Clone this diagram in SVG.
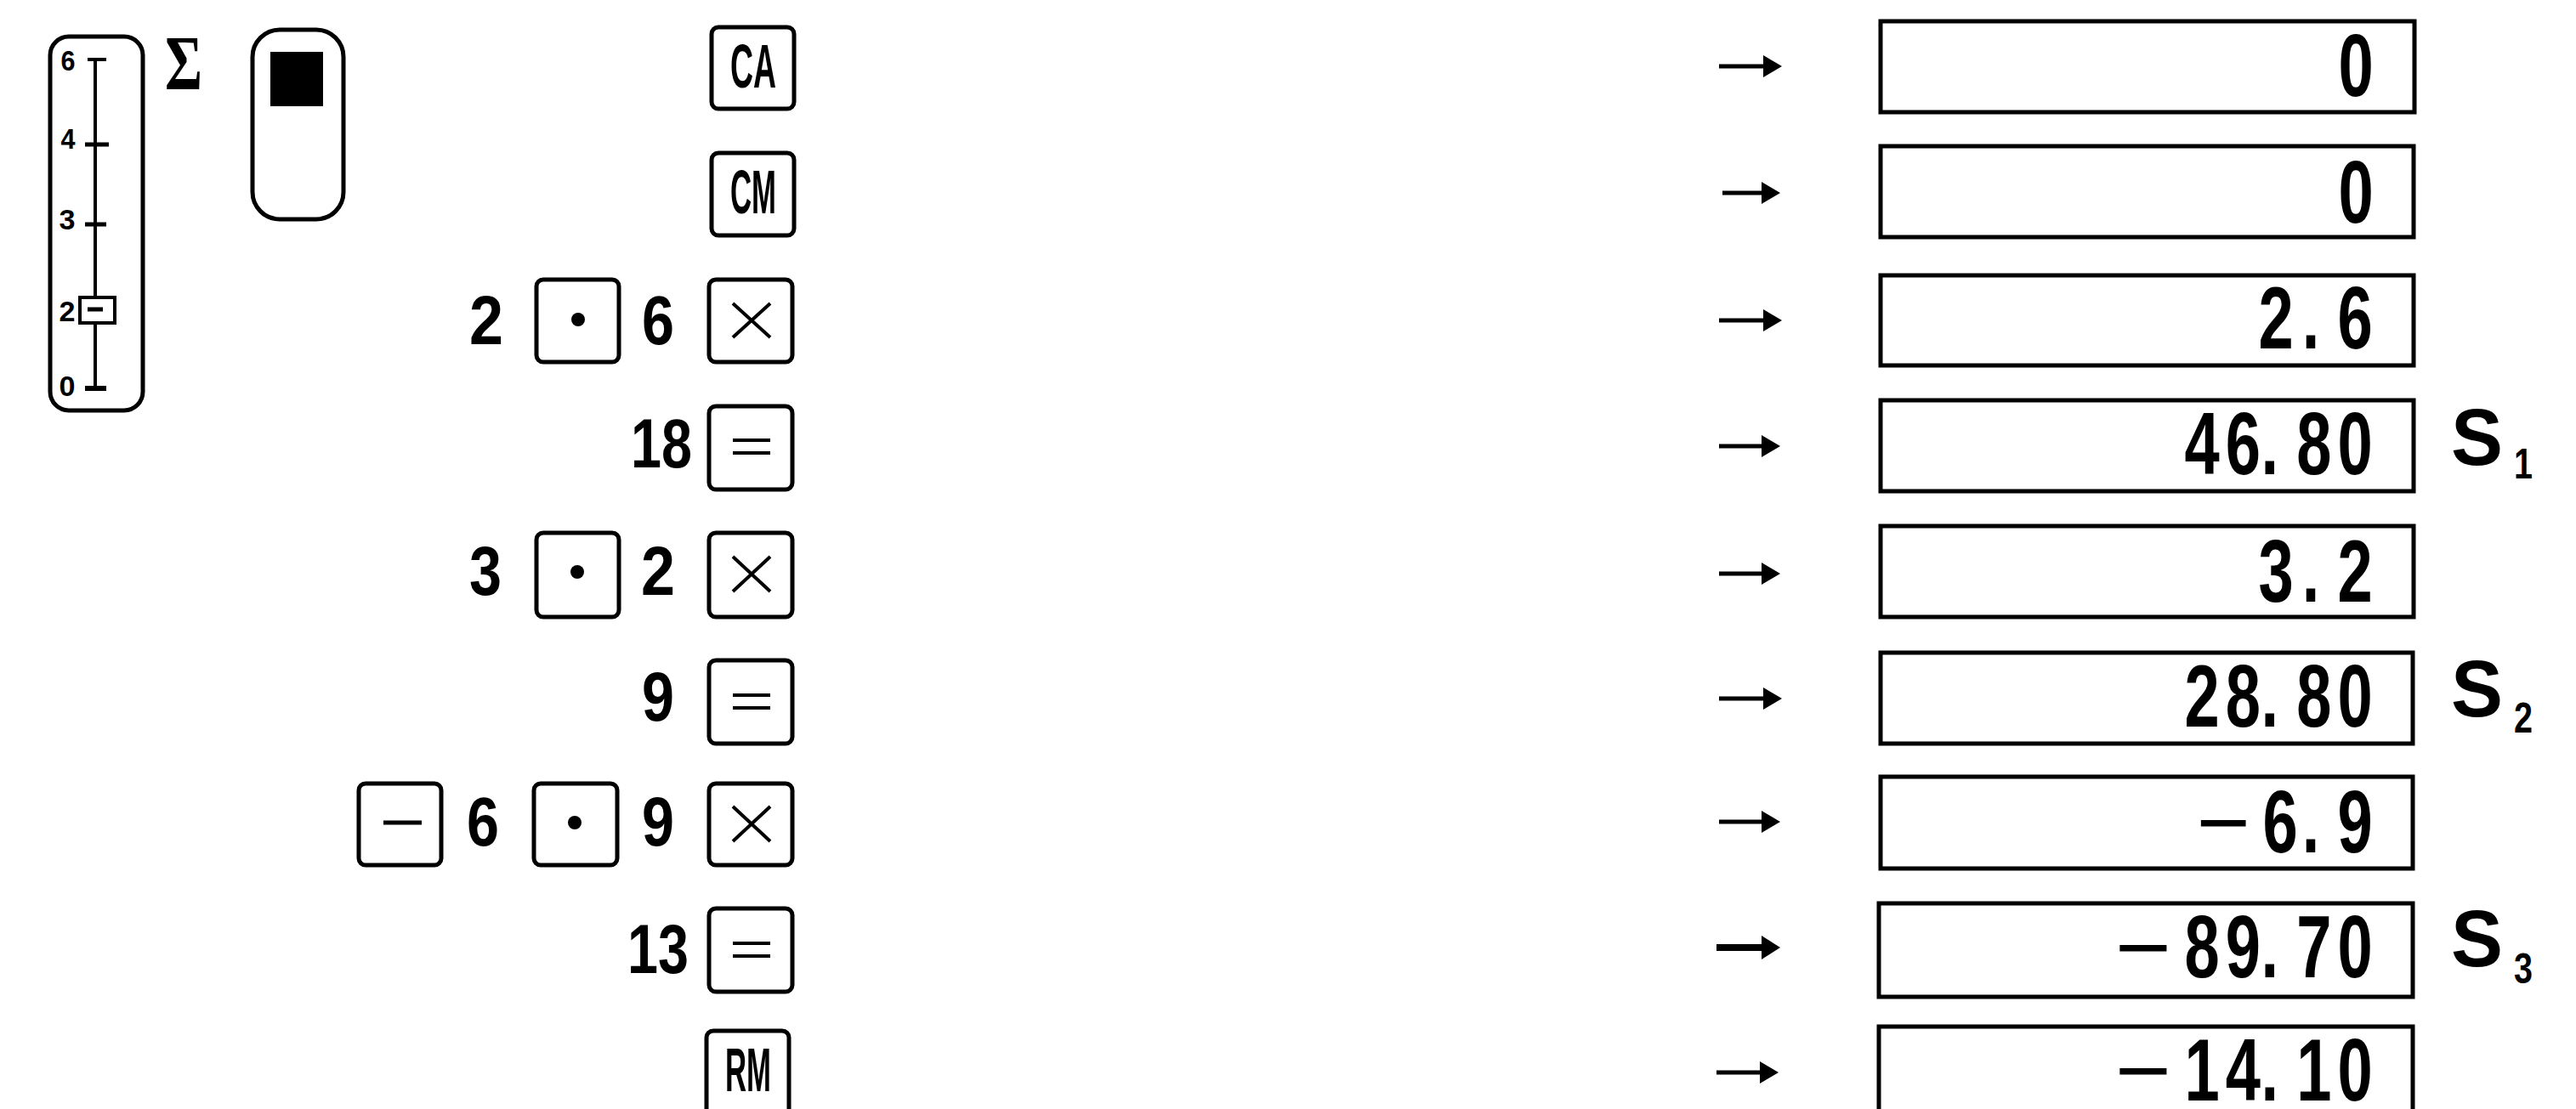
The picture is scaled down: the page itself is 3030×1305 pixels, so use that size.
<svg xmlns="http://www.w3.org/2000/svg" width="3030" height="1305" viewBox="0 0 3030 1305">
<style>
.bg{fill:#fff}
.key{fill:#fff;stroke:#000;stroke-width:5}
.sym{stroke:#000;stroke-width:4;fill:none}
.num{font-family:"Liberation Sans",Arial,sans-serif;font-weight:bold;font-size:82px;fill:#000;text-anchor:middle}
.lbl{font-family:"Liberation Sans",Arial,sans-serif;font-weight:bold;font-size:72px;fill:#000;text-anchor:middle}
.tick{font-family:"Liberation Sans",Arial,sans-serif;font-weight:bold;font-size:34px;fill:#000;text-anchor:middle}
.box{fill:#fff;stroke:#000;stroke-width:5}
.val{font-family:"Liberation Sans",Arial,sans-serif;font-weight:bold;font-size:103px;fill:#000;text-anchor:middle}
.mn{font-weight:normal}
.s{font-family:"Liberation Sans",Arial,sans-serif;font-weight:bold;font-size:94px;fill:#000}
.sub{font-family:"Liberation Sans",Arial,sans-serif;font-weight:bold;font-size:50px;fill:#000}
.arr{stroke:#000;stroke-width:5;fill:none;marker-end:url(#ah)}
.arrb{stroke:#000;stroke-width:8;fill:none;marker-end:url(#ahb)}
</style>
<defs>
<marker id="ah" markerUnits="userSpaceOnUse" markerWidth="24" markerHeight="26" refX="4" refY="13" orient="auto" viewBox="0 0 24 26"><path d="M0,0 L22,13 L0,26 Z" fill="#000"/></marker>
<marker id="ahb" markerUnits="userSpaceOnUse" markerWidth="24" markerHeight="28" refX="4" refY="14" orient="auto" viewBox="0 0 24 28"><path d="M0,0 L22,14 L0,28 Z" fill="#000"/></marker>
</defs>
<rect class="bg" x="0" y="0" width="3030" height="1305"/>

<g id="slider">
<rect x="59" y="43" width="109" height="440" rx="22" fill="none" stroke="#000" stroke-width="5"/>
<line x1="112" y1="70" x2="112" y2="350" stroke="#000" stroke-width="4"/>
<line x1="112" y1="380" x2="112" y2="457" stroke="#000" stroke-width="4"/>
<line x1="103" y1="70" x2="125" y2="70" stroke="#000" stroke-width="4"/>
<line x1="100" y1="170" x2="128" y2="170" stroke="#000" stroke-width="5"/>
<line x1="100" y1="264" x2="125" y2="264" stroke="#000" stroke-width="5"/>
<rect x="94" y="350" width="41" height="30" fill="#fff" stroke="#000" stroke-width="4"/>
<line x1="103" y1="364" x2="121" y2="364" stroke="#000" stroke-width="5"/>
<line x1="100" y1="457" x2="125" y2="457" stroke="#000" stroke-width="6"/>
<text class="tick" x="80" y="83" textLength="17" lengthAdjust="spacingAndGlyphs">6</text>
<text class="tick" x="80" y="175" textLength="17" lengthAdjust="spacingAndGlyphs">4</text>
<text class="tick" x="79" y="270" textLength="19" lengthAdjust="spacingAndGlyphs">3</text>
<text class="tick" x="79" y="378" textLength="19" lengthAdjust="spacingAndGlyphs">2</text>
<text class="tick" x="79" y="466" textLength="19" lengthAdjust="spacingAndGlyphs">0</text>
</g>

<g id="sigma">
<text x="216" y="105" font-family="'Liberation Serif','Times New Roman',serif" font-weight="bold" font-size="90" text-anchor="middle" textLength="44" lengthAdjust="spacingAndGlyphs">Σ</text>
</g>

<g id="memory-indicator">
<rect x="297" y="35" width="107" height="223" rx="32" fill="none" stroke="#000" stroke-width="5"/>
<rect x="318" y="61" width="62" height="64" fill="#000"/>
</g>

<g id="row1-keys">
<rect class="key" x="837" y="32" width="97" height="96" rx="8"/>
<text class="lbl" x="886" y="103" textLength="54" lengthAdjust="spacingAndGlyphs">CA</text>
</g>
<g id="row2-keys">
<rect class="key" x="837" y="180" width="97" height="97" rx="8"/>
<text class="lbl" x="886" y="251" textLength="54" lengthAdjust="spacingAndGlyphs">CM</text>
</g>
<g id="row3-keys">
<text class="num" x="572" y="405" textLength="40" lengthAdjust="spacingAndGlyphs">2</text>
<rect class="key" x="631" y="329" width="97" height="97" rx="8"/>
<circle cx="680" cy="376" r="8" fill="#000"/>
<text class="num" x="774" y="405" textLength="38" lengthAdjust="spacingAndGlyphs">6</text>
<rect class="key" x="834" y="329" width="98" height="97" rx="8"/>
<path class="sym" d="M862,357 L906,397 M906,357 L862,397"/>
</g>
<g id="row4-keys">
<text class="num" x="778" y="550" textLength="72" lengthAdjust="spacingAndGlyphs">18</text>
<rect class="key" x="834" y="478" width="98" height="98" rx="8"/>
<path class="sym" d="M862,518 L906,518 M862,533 L906,533"/>
</g>
<g id="row5-keys">
<text class="num" x="571" y="700" textLength="38" lengthAdjust="spacingAndGlyphs">3</text>
<rect class="key" x="631" y="627" width="97" height="99" rx="8"/>
<circle cx="679" cy="673" r="8" fill="#000"/>
<text class="num" x="774" y="700" textLength="40" lengthAdjust="spacingAndGlyphs">2</text>
<rect class="key" x="834" y="627" width="98" height="99" rx="8"/>
<path class="sym" d="M862,655 L906,696 M906,655 L862,696"/>
</g>
<g id="row6-keys">
<text class="num" x="774" y="848" textLength="38" lengthAdjust="spacingAndGlyphs">9</text>
<rect class="key" x="834" y="777" width="98" height="98" rx="8"/>
<path class="sym" d="M862,818 L906,818 M862,833 L906,833"/>
</g>
<g id="row7-keys">
<rect class="key" x="422" y="922" width="97" height="96" rx="8"/>
<line x1="451" y1="968" x2="496" y2="968" stroke="#000" stroke-width="5"/>
<text class="num" x="568" y="995" textLength="38" lengthAdjust="spacingAndGlyphs">6</text>
<rect class="key" x="628" y="922" width="98" height="96" rx="8"/>
<circle cx="676" cy="968" r="8" fill="#000"/>
<text class="num" x="774" y="995" textLength="38" lengthAdjust="spacingAndGlyphs">9</text>
<rect class="key" x="834" y="922" width="98" height="96" rx="8"/>
<path class="sym" d="M862,949 L906,990 M906,949 L862,990"/>
</g>
<g id="row8-keys">
<text class="num" x="774" y="1145" textLength="72" lengthAdjust="spacingAndGlyphs">13</text>
<rect class="key" x="834" y="1069" width="98" height="98" rx="8"/>
<path class="sym" d="M862,1110 L906,1110 M862,1125 L906,1125"/>
</g>
<g id="row9-keys">
<rect class="key" x="831" y="1213" width="97" height="110" rx="8"/>
<text class="lbl" x="880" y="1284" textLength="54" lengthAdjust="spacingAndGlyphs">RM</text>
</g>

<g id="connectors">
<line class="arr" x1="2022" y1="78" x2="2078" y2="78"/>
<line class="arr" x1="2026" y1="227" x2="2076" y2="227"/>
<line class="arr" x1="2022" y1="377" x2="2078" y2="377"/>
<line class="arr" x1="2022" y1="525" x2="2076" y2="525"/>
<line class="arr" x1="2022" y1="675" x2="2076" y2="675"/>
<line class="arr" x1="2022" y1="822" x2="2078" y2="822"/>
<line class="arr" x1="2022" y1="967" x2="2076" y2="967"/>
<line class="arrb" x1="2019" y1="1115" x2="2076" y2="1115"/>
<line class="arr" x1="2019" y1="1262" x2="2074" y2="1262"/>
</g>

<g id="display1">
<rect class="box" x="2212" y="25" width="628" height="107"/>
<text class="val" transform="translate(2771,113) scale(0.72,1)" x="0">0</text>
</g>
<g id="display2">
<rect class="box" x="2212" y="172" width="627" height="107"/>
<text class="val" transform="translate(2771,262) scale(0.72,1)" x="0">0</text>
</g>
<g id="display3">
<rect class="box" x="2212" y="324" width="627" height="106"/>
<text class="val" transform="translate(2770,410) scale(0.72,1)" x="-129 -72 0">2.6</text>
</g>
<g id="display4">
<rect class="box" x="2212" y="471" width="627" height="107"/>
<text class="val" transform="translate(2770,558) scale(0.72,1)" x="-250 -183 -139 -67 0">46.80</text>
<text class="s" x="2883" y="547" textLength="61" lengthAdjust="spacingAndGlyphs">S</text>
<text class="sub" x="2957" y="563" textLength="22" lengthAdjust="spacingAndGlyphs">1</text>
</g>
<g id="display5">
<rect class="box" x="2212" y="619" width="627" height="107"/>
<text class="val" transform="translate(2770,708) scale(0.72,1)" x="-129 -72 0">3.2</text>
</g>
<g id="display6">
<rect class="box" x="2212" y="768" width="626" height="107"/>
<text class="val" transform="translate(2770,855) scale(0.72,1)" x="-250 -183 -139 -67 0">28.80</text>
<text class="s" x="2883" y="843" textLength="61" lengthAdjust="spacingAndGlyphs">S</text>
<text class="sub" x="2957" y="862" textLength="22" lengthAdjust="spacingAndGlyphs">2</text>
</g>
<g id="display7">
<rect class="box" x="2212" y="914" width="626" height="108"/>
<text class="val" transform="translate(2770,1003) scale(0.72,1)" x="-215 -122 -72 0"><tspan class="mn" textLength="88" lengthAdjust="spacingAndGlyphs">−</tspan>6.9</text>
</g>
<g id="display8">
<rect class="box" x="2210" y="1063" width="628" height="110"/>
<text class="val" transform="translate(2770,1150) scale(0.72,1)" x="-346 -250 -183 -139 -67 0"><tspan class="mn" textLength="92" lengthAdjust="spacingAndGlyphs">−</tspan>89.70</text>
<text class="s" x="2883" y="1137" textLength="61" lengthAdjust="spacingAndGlyphs">S</text>
<text class="sub" x="2957" y="1157" textLength="22" lengthAdjust="spacingAndGlyphs">3</text>
</g>
<g id="display9">
<rect class="box" x="2210" y="1208" width="628" height="120"/>
<text class="val" transform="translate(2770,1295) scale(0.72,1)" x="-346 -250 -183 -139 -67 0"><tspan class="mn" textLength="92" lengthAdjust="spacingAndGlyphs">−</tspan>14.10</text>
</g>
</svg>
